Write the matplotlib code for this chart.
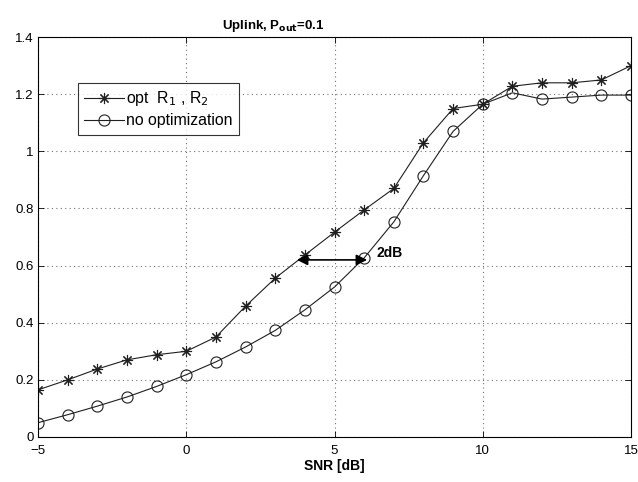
import matplotlib
matplotlib.use("Agg")
import matplotlib.pyplot as plt

plt.rcParams['font.family'] = ['Liberation Sans', 'DejaVu Sans']

snr = [-5, -4, -3, -2, -1, 0, 1, 2, 3, 4, 5, 6, 7, 8, 9, 10, 11, 12, 13, 14, 15]
opt_r = [0.165, 0.20, 0.238, 0.27, 0.288, 0.30, 0.35, 0.458, 0.556, 0.637, 0.717, 0.795, 0.87,
         1.03, 1.15, 1.165, 1.228, 1.24, 1.24, 1.25, 1.30]
no_opt = [0.05, 0.078, 0.108, 0.14, 0.177, 0.218, 0.263, 0.315, 0.373, 0.445, 0.525, 0.627, 0.753,
          0.915, 1.07, 1.165, 1.205, 1.183, 1.19, 1.197, 1.197]
xticks = [-5, 0, 5, 10, 15]
yticks = [0, 0.2, 0.4, 0.6, 0.8, 1.0, 1.2, 1.4]
ytick_labels = ['0', '0.2', '0.4', '0.6', '0.8', '1', '1.2', '1.4']

fig = plt.figure(figsize=(6.38, 4.82), dpi=100)
ax = fig.add_axes([0.0596, 0.0934, 0.9294, 0.8296])

ax.plot(snr, opt_r, color='#202020', lw=0.8, marker=(8, 2, 0), ms=8, mfc='none', mec='#202020', mew=0.8,
        label=r'opt  R$_1$ , R$_2$')
ax.plot(snr, no_opt, color='#202020', lw=0.8, marker='o', ms=8, mfc='none', mec='#202020', mew=0.8,
        label='no optimization')

ax.annotate('', xy=(3.73, 0.62), xytext=(6.1, 0.62),
            arrowprops=dict(arrowstyle='<|-|>', color='black', lw=1.2, mutation_scale=16,
                            shrinkA=0, shrinkB=0))
ax.text(6.43, 0.644, '2dB', fontsize=10, fontweight='bold', ha='left', va='center')

ax.set_xlim(-5, 15)
ax.set_ylim(0, 1.4)
ax.set_xticks(xticks)
ax.set_yticks(yticks)
ax.set_yticklabels(ytick_labels)
ax.tick_params(direction='in', top=True, right=True, labelsize=9.5, length=4, width=0.6)
ax.tick_params(axis='x', pad=6)
ax.tick_params(axis='y', pad=3)
ax.grid(True, linestyle=(0, (1, 3)), color='0.45', lw=0.8)
for s in ax.spines.values():
    s.set_linewidth(0.8)

ax.set_xlabel('SNR [dB]', fontsize=10, fontweight='bold', labelpad=1)
ax.set_title(r'Uplink, P$_{\mathbf{out}}$=0.1', fontsize=9.5, fontweight='bold', pad=6, x=0.396)

leg = ax.legend(loc='upper left', bbox_to_anchor=(0.067, 0.885), frameon=True, fancybox=False,
                edgecolor='black', fontsize=11.4, handlelength=2.5, borderpad=0.4,
                labelspacing=0.3, handletextpad=0.15, borderaxespad=0)
leg.get_frame().set_linewidth(0.8)

fig.savefig('out.png', dpi=100)
